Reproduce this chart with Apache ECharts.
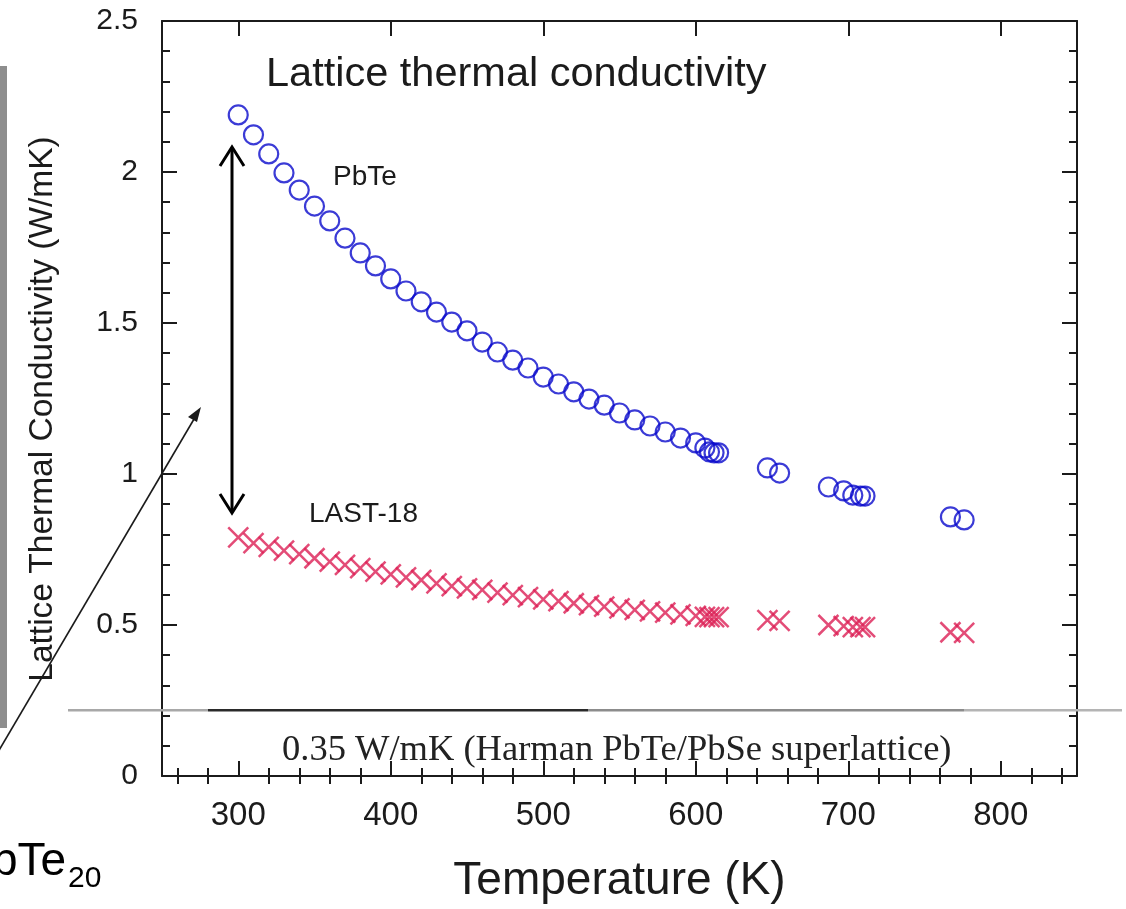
<!DOCTYPE html>
<html>
<head>
<meta charset="utf-8">
<script src="https://cdn.jsdelivr.net/npm/echarts@6/dist/echarts.min.js"></script>
<style>
  html, body { margin: 0; padding: 0; background: #ffffff; }
  #chart { width: 1126px; height: 909px; }
</style>
</head>
<body>
<div id="chart"></div>
<script>
// Lattice thermal conductivity (W/mK) versus temperature (K)
const pbteTemps = [300, 310, 320, 330, 340, 350, 360, 370, 380, 390, 400, 410, 420, 430, 440,
  450, 460, 470, 480, 490, 500, 510, 520, 530, 540, 550, 560, 570, 580, 590, 600,
  606, 609, 612, 615, 647, 655, 687, 697, 703, 708, 711, 767, 776];
const pbteValues = [2.189, 2.123, 2.060, 1.997, 1.940, 1.887, 1.838, 1.781, 1.732, 1.689, 1.646,
  1.606, 1.570, 1.536, 1.503, 1.474, 1.437, 1.404, 1.377, 1.351, 1.321, 1.298, 1.272, 1.248,
  1.228, 1.202, 1.179, 1.159, 1.139, 1.119, 1.103, 1.086, 1.073, 1.070, 1.070, 1.020, 1.003,
  0.957, 0.944, 0.930, 0.927, 0.927, 0.858, 0.848];

const lastTemps = [300, 310, 320, 330, 340, 350, 360, 370, 380, 390, 400, 410, 420, 430, 440,
  450, 460, 470, 480, 490, 500, 510, 520, 530, 540, 550, 560, 570, 580, 590, 600,
  606, 609, 612, 615, 647, 655, 687, 697, 703, 708, 711, 767, 776];
const lastValues = [0.790, 0.771, 0.759, 0.746, 0.735, 0.721, 0.710, 0.699, 0.688, 0.677, 0.668,
  0.658, 0.649, 0.638, 0.629, 0.621, 0.616, 0.607, 0.599, 0.592, 0.585, 0.579, 0.572, 0.566,
  0.561, 0.555, 0.550, 0.545, 0.541, 0.535, 0.530, 0.527, 0.526, 0.526, 0.526, 0.516, 0.514,
  0.500, 0.496, 0.493, 0.493, 0.493, 0.476, 0.474];

const xMajorTicks = [300, 400, 500, 600, 700, 800];
const xMinorTicks = [260, 280, 320, 340, 360, 380, 420, 440, 460, 480, 520, 540, 560, 580,
  620, 640, 660, 680, 720, 740, 760, 780, 820, 840];

// Reference level drawn as a horizontal rule (W/mK on the plot scale)
const superlatticeRuleLevel = 0.218;

const chart = echarts.init(document.getElementById('chart'), null, { renderer: 'canvas' });

const SANS = '"Liberation Sans", Arial, Helvetica, sans-serif';
const SERIF = '"Liberation Serif", "Times New Roman", serif';
const INK = '#1b1b1b';
const gridBox = { left: 162, top: 21, right: 49, bottom: 133, containLabel: false };

const frameLine = { show: true, onZero: false, lineStyle: { color: INK, width: 2 } };

function xAxisDef(gridIndex, position, ticks, tickLen, withLine, withLabels) {
  return {
    type: 'value', gridIndex, position, min: 250, max: 850,
    axisLine: withLine ? frameLine : { show: false },
    splitLine: { show: false },
    axisTick: { show: true, inside: true, length: tickLen, customValues: ticks,
      lineStyle: { color: INK, width: 2 } },
    axisLabel: withLabels
      ? { show: true, customValues: xMajorTicks, margin: 23, fontSize: 33, color: INK, fontFamily: SANS }
      : { show: false }
  };
}

function yAxisDef(gridIndex, position, visible, withLabels) {
  return {
    type: 'value', gridIndex, position, min: 0, max: 2.5, interval: 0.5, show: visible,
    axisLine: frameLine,
    splitLine: { show: false },
    axisTick: { show: true, inside: true, length: 15, lineStyle: { color: INK, width: 2 } },
    minorTick: { show: true, splitNumber: 5, length: 8, lineStyle: { color: INK, width: 2 } },
    axisLabel: withLabels
      ? { show: true, margin: 24, fontSize: 30, color: INK, fontFamily: SANS }
      : { show: false }
  };
}

const xAxes = [
  Object.assign(xAxisDef(0, 'bottom', xMajorTicks, 15, true, true), {
    name: 'Temperature (K)', nameLocation: 'middle', nameGap: 82,
    nameTextStyle: { fontSize: 46, color: INK, fontFamily: SANS }
  }),
  xAxisDef(0, 'top', xMajorTicks, 15, true, false),
  xAxisDef(1, 'bottom', xMinorTicks, 8, false, false),
  xAxisDef(1, 'top', xMinorTicks, 8, false, false)
];

const yAxes = [
  yAxisDef(0, 'left', true, true),
  yAxisDef(0, 'right', true, false),
  yAxisDef(1, 'left', false, false),
  yAxisDef(1, 'right', false, false)
];

const crossSymbol = 'path://M0,0L10,10M10,0L0,10';

const option = {
  backgroundColor: '#ffffff',
  animation: false,
  title: {
    text: 'Lattice thermal conductivity',
    left: 261, top: 49,
    textStyle: { fontSize: 41.5, fontWeight: 'normal', color: INK, fontFamily: SANS }
  },
  grid: [gridBox, Object.assign({}, gridBox)],
  xAxis: xAxes,
  yAxis: yAxes,
  series: [
    {
      name: 'PbTe', type: 'scatter', xAxisIndex: 0, yAxisIndex: 0,
      symbol: 'circle', symbolSize: 19,
      itemStyle: { color: 'rgba(0,0,0,0)', borderColor: '#0a0acc', borderWidth: 2.2 },
      data: pbteTemps.map((t, i) => [t, pbteValues[i]]),
      z: 3
    },
    {
      name: 'LAST-18', type: 'scatter', xAxisIndex: 0, yAxisIndex: 0,
      symbol: crossSymbol, symbolSize: 20,
      itemStyle: { color: 'rgba(0,0,0,0)', borderColor: '#dc1f55', borderWidth: 2.5 },
      data: lastTemps.map((t, i) => [t, lastValues[i]]),
      z: 3
    }
  ]
};

chart.setOption(option);

// Annotations: axis title, series names, reference rule, arrows and the neighbouring panel edge
const ruleY = chart.convertToPixel({ xAxisIndex: 0, yAxisIndex: 0 }, [300, superlatticeRuleLevel])[1];

chart.setOption({
  graphic: [
    { type: 'text', x: 43, y: 409, rotation: Math.PI / 2, z: 10,
      style: { text: 'Lattice Thermal Conductivity (W/mK)', fontSize: 33.5, fill: INK,
        fontFamily: SANS, align: 'center', verticalAlign: 'middle' } },
    { type: 'text', left: 333, top: 163, z: 10,
      style: { text: 'PbTe', fontSize: 28, fill: INK, fontFamily: SANS } },
    { type: 'text', left: 309, top: 500, z: 10,
      style: { text: 'LAST-18', fontSize: 28, fill: INK, fontFamily: SANS } },
    { type: 'text', left: 282, top: 732, z: 10,
      style: { text: '0.35 W/mK (Harman PbTe/PbSe superlattice)', fontSize: 36.5, fill: '#222', fontFamily: SERIF } },

    // horizontal rule across the figure
    { type: 'line', z: 9, shape: { x1: 68, y1: ruleY, x2: 208, y2: ruleY },
      style: { stroke: '#a8a8a8', lineWidth: 2.5 } },
    { type: 'line', z: 9, shape: { x1: 208, y1: ruleY, x2: 588, y2: ruleY },
      style: { stroke: '#2a2a2a', lineWidth: 2.5 } },
    { type: 'line', z: 9, shape: { x1: 588, y1: ruleY, x2: 964, y2: ruleY },
      style: { stroke: '#8c8c8c', lineWidth: 2.5 } },
    { type: 'line', z: 9, shape: { x1: 964, y1: ruleY, x2: 1122, y2: ruleY },
      style: { stroke: '#b4b4b4', lineWidth: 2.5 } },

    // double-headed arrow spanning the two data sets at 300 K
    { type: 'line', z: 10, shape: { x1: 232, y1: 148, x2: 232, y2: 512 },
      style: { stroke: '#000', lineWidth: 3 } },
    { type: 'polyline', z: 10, shape: { points: [[220, 166], [232, 147], [244, 166]] },
      style: { stroke: '#000', lineWidth: 3, fill: null } },
    { type: 'polyline', z: 10, shape: { points: [[220, 494], [232, 513], [244, 494]] },
      style: { stroke: '#000', lineWidth: 3, fill: null } },

    // pointer coming in from the left panel
    { type: 'line', z: 10, shape: { x1: -2, y1: 752, x2: 197, y2: 414 },
      style: { stroke: '#1b1b1b', lineWidth: 1.6 } },
    { type: 'polygon', z: 10, shape: { points: [[201, 407], [188, 417], [197, 422]] },
      style: { fill: '#1b1b1b' } },

    // edge of the neighbouring panel
    { type: 'rect', z: 1, shape: { x: 0, y: 66, width: 7, height: 662 },
      style: { fill: '#8e8e8e' } },
    { type: 'text', left: -8, top: 839, z: 10,
      style: { text: 'bTe', fontSize: 46, fill: '#000', fontFamily: SANS } },
    { type: 'text', left: 68, top: 864, z: 10,
      style: { text: '20', fontSize: 30, fill: '#000', fontFamily: SANS } }
  ]
});
</script>
</body>
</html>
